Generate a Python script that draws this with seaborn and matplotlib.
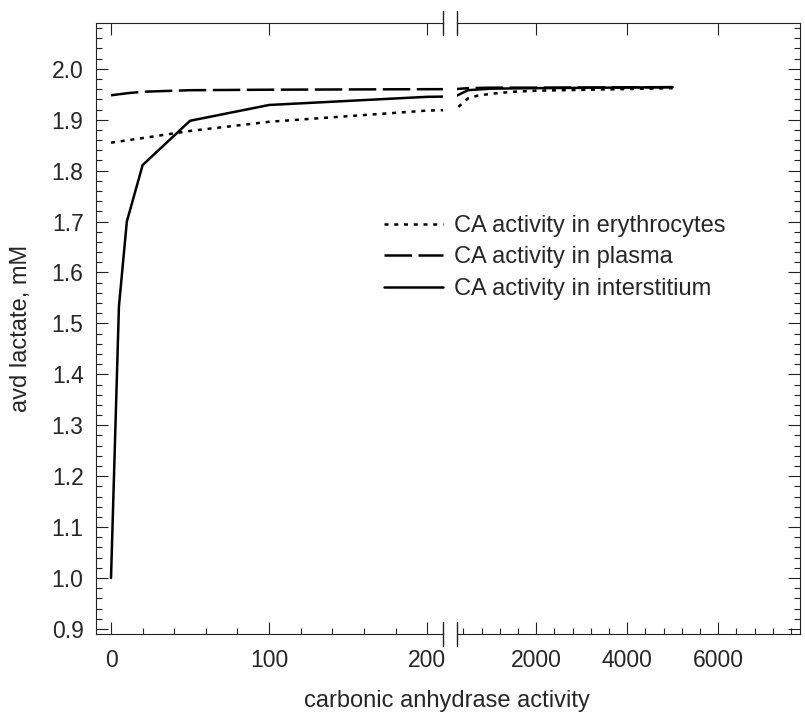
import matplotlib
matplotlib.use("Agg")
import matplotlib.pyplot as plt
import seaborn as sns
from matplotlib.ticker import FixedLocator, MultipleLocator, FormatStrFormatter
from matplotlib.lines import Line2D

# ---- data ----
ery_x = [0, 20, 50, 100, 200, 500, 700, 1000, 1500, 2000, 5000]
ery_y = [1.855, 1.864, 1.878, 1.896, 1.918, 1.942, 1.947, 1.951, 1.955, 1.957, 1.962]

pla_x = [0, 10, 20, 50, 100, 200, 500, 1000, 2000, 5000]
pla_y = [1.948, 1.952, 1.955, 1.958, 1.959, 1.960, 1.962, 1.963, 1.963, 1.964]

int_x = [0, 5, 10, 20, 50, 100, 200, 500, 1000, 2000, 5000]
int_y = [1.000, 1.533, 1.700, 1.811, 1.898, 1.929, 1.945, 1.958, 1.961, 1.962, 1.964]

series_labels = ["CA activity in erythrocytes", "CA activity in plasma",
                 "CA activity in interstitium"]
left_ticks = [0, 100, 200]
right_ticks = [2000, 4000, 6000]
y_ticks = [0.9, 1.0, 1.1, 1.2, 1.3, 1.4, 1.5, 1.6, 1.7, 1.8, 1.9, 2.0]
x_label = "carbonic anhydrase activity"
y_label = "avd lactate, mM"

# ---- style ----
sns.set_style("ticks")
plt.rcParams['font.family'] = ['Liberation Sans', 'DejaVu Sans']

W, H = 805, 713
fig = plt.figure(figsize=(W / 100, H / 100), dpi=100)
bot = (H - 634) / H
hgt = (634 - 23) / H
axL = fig.add_axes([96 / W, bot, (443 - 96) / W, hgt])
axR = fig.add_axes([457 / W, bot, (800 - 457) / W, hgt])

styles = [(0, (1.6, 2.3)), (0, (11, 2.6)), '-']
data = [(ery_x, ery_y), (pla_x, pla_y), (int_x, int_y)]
for ax in (axL, axR):
    for (xs, ys), ls, lab in zip(data, styles, series_labels):
        sns.lineplot(x=xs, y=ys, ax=ax, color='black', linewidth=1.8,
                     linestyle=ls, label=lab, legend=False, sort=False)

spine_col = '#222222'
for ax in (axL, axR):
    ax.set_ylim(0.89, 2.09)
    ax.yaxis.set_major_locator(FixedLocator(y_ticks))
    ax.yaxis.set_minor_locator(MultipleLocator(0.02))
    ax.tick_params(which='both', direction='in', top=True, bottom=True,
                   color=spine_col, width=0.8, labelsize=16.5)
    ax.tick_params(which='major', length=8.6)
    ax.tick_params(which='minor', length=4.3, top=False)
    ax.tick_params(axis='x', pad=11)
    ax.set_xlabel("")
    ax.set_ylabel("")
    for s in ax.spines.values():
        s.set_color(spine_col)
        s.set_linewidth(0.8)

axL.set_xlim(-9.5, 210)
axL.xaxis.set_major_locator(FixedLocator(left_ticks))
axL.xaxis.set_minor_locator(MultipleLocator(20))
axL.spines['right'].set_visible(False)
axL.tick_params(axis='y', which='both', left=True, right=False, pad=9)
axL.yaxis.set_major_formatter(FormatStrFormatter('%.1f'))
axL.set_ylabel(y_label, fontsize=17, labelpad=14)

axR.set_xlim(260, 7800)
axR.xaxis.set_major_locator(FixedLocator(right_ticks))
axR.xaxis.set_minor_locator(MultipleLocator(400))
axR.spines['left'].set_visible(False)
axR.tick_params(axis='y', which='both', left=False, right=True,
                labelleft=False, labelright=False)

# break marks
d = 12 / 611
for ax, xx in ((axL, 1.0), (axR, 0.0)):
    for yy in (0.0, 1.0):
        ax.add_line(Line2D([xx, xx], [yy - d, yy + d], transform=ax.transAxes,
                           color=spine_col, lw=1.0, clip_on=False))

fig.text(447 / W, (H - 701) / H, x_label, ha='center', va='center', fontsize=17)

handles, labels = axL.get_legend_handles_labels()
fig.legend(handles, labels, loc='upper left',
           bbox_to_anchor=(384 / W, 1 - 215 / H), frameon=False,
           fontsize=17, handlelength=2.5, handletextpad=0.45,
           labelspacing=0.4, borderpad=0, borderaxespad=0)

fig.savefig("out.png", dpi=100)
